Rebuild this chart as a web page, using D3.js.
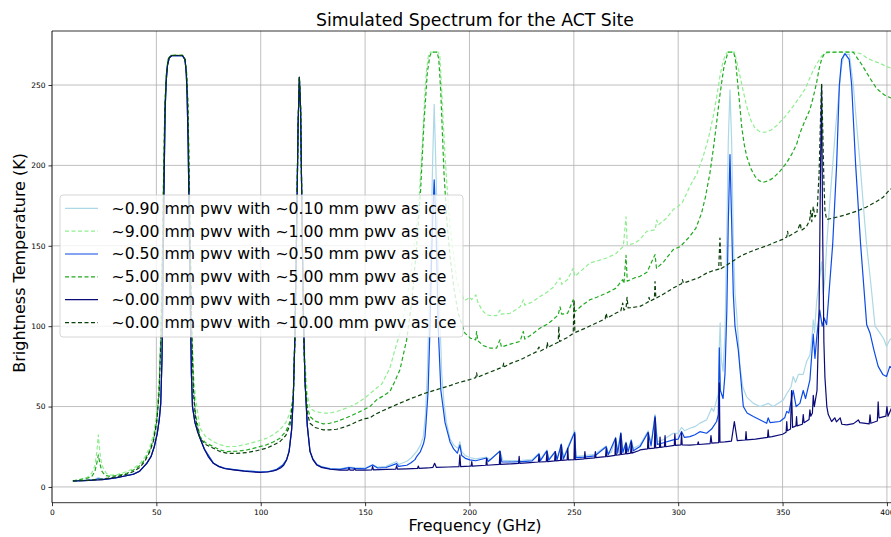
<!DOCTYPE html>
<html>
<head>
<meta charset="utf-8">
<script src="https://d3js.org/d3.v7.min.js"></script>
<style>
  body { margin: 0; background: #fff; }
  svg { display: block; font-family: "DejaVu Sans", sans-serif; }
</style>
</head>
<body>
<svg id="chart" width="891" height="537"></svg>
<script>
// spectrum points: [frequency GHz, brightness temperature K]

const xTicks = [0, 50, 100, 150, 200, 250, 300, 350, 400];
const yTicks = [0, 50, 100, 150, 200, 250];

const labels = [
  "~0.90 mm pwv with ~0.10 mm pwv as ice",
  "~9.00 mm pwv with ~1.00 mm pwv as ice",
  "~0.50 mm pwv with ~0.50 mm pwv as ice",
  "~5.00 mm pwv with ~5.00 mm pwv as ice",
  "~0.00 mm pwv with ~1.00 mm pwv as ice",
  "~0.00 mm pwv with ~10.00 mm pwv as ice"
];

const lightBlueSpec = [[10,3.7],[15,3.9],[20,4.5],[22.2,5.8],[24,4.8],[27,5.1],[31,5.9],[35,6.9],[39,8],[42,9.9],[45.4,14.8],[47.5,19.2],[49,25.2],[50.4,33.2],[51.4,42],[52.1,52],[52.7,80],[53.2,130],[53.7,190],[54.2,235],[54.7,252],[55.3,262],[56.2,267],[57.5,268.3],[62.5,268.3],[63.7,266],[64.3,258],[64.7,245],[65.2,215],[65.7,170],[66.3,110],[66.8,70],[67.3,50],[68.5,40],[70.9,30.5],[73,23.7],[77.3,15],[80,12.9],[83,11.6],[87,10.9],[92,10.1],[99.6,9.5],[104,9.7],[107.6,11],[110.5,13.8],[112.4,17.2],[113.6,22.5],[114.8,36],[115.6,56],[116.4,95],[117.2,160],[117.9,225],[118.5,254],[119.1,235],[119.7,175],[120.4,110],[121.2,66],[122.3,38.5],[123.6,22.5],[125,17.5],[126.8,14.2],[129,12.7],[133.2,11.6],[138,11.2],[142.3,12.3],[145,12],[150,11.8],[153.6,14],[156,12.3],[160,12.8],[165.1,15.8],[166,14],[170,16],[172,18],[174.7,22],[176.5,26],[177.9,31.3],[178.9,45],[179.8,71],[180.7,110],[181.6,154],[182.4,205],[183.1,238],[183.8,205],[184.8,154],[185.7,110],[186.7,71],[187.8,52],[189,40],[190.7,30],[192.5,26],[194.5,24],[195.4,28.2],[196.3,22],[198,19.5],[200.2,18.3],[203,17.5],[208.2,18.5],[210,16.8],[214.6,22.5],[216,16.5],[220,16.4],[225,16.6],[230,17],[233.3,21],[234,17.2],[237.1,23],[238,17.5],[241.1,22],[242,17.8],[244,27],[245,18.2],[250.4,35],[251,19],[255,19.5],[260,20.3],[265.5,25.5],[266.5,21],[268,21.5],[270,31],[271,22],[272.5,34],[273.5,22.5],[275,28],[276,23],[277.5,29.5],[278.5,24],[281.7,26.2],[285.6,35],[287,27],[288.9,45],[290,28],[293,29.5],[297.6,33.4],[300,33.5],[301.6,37],[303,35],[305.6,36.5],[308,37.5],[310.4,39.7],[313.6,41.7],[316,49],[317,47],[318.4,54],[319.2,58],[319.7,88],[320.1,102],[320.6,80],[321.5,72],[322.4,95],[323.2,150],[324,215],[324.8,247],[325.6,215],[326.4,154],[327.2,120],[328,108],[329.6,75],[331,62],[332.8,56],[336,52],[339.2,50],[343.1,52],[345.5,50],[350.3,54],[352,58],[354,62],[355.1,68.7],[356.2,65],[357.6,70],[359.9,70],[361.5,78],[363.1,82],[364.2,95],[364.7,104],[365.3,96],[366.3,115],[367.8,130],[368.7,140],[369.5,120],[370.3,130],[371.1,150],[372.5,175],[374,200],[375.5,225],[377,245],[378.3,262],[379.5,269],[382,269],[383.9,250],[385.5,225],[387.2,200],[388.7,175],[390.3,150],[392.4,125],[394.3,100],[396.6,95.8],[398.5,92],[399.8,87.4],[401.4,91.5],[404,95]];

const lightGreenSpec = [[10,3.8],[13,4.3],[15,5],[17,6],[19,8.5],[20.5,13],[21.5,22],[22.2,32.4],[22.9,22],[23.8,14],[24.6,11.6],[26,8.5],[27.8,7.3],[31,7.6],[35.8,9.5],[39,11.5],[42.2,14.7],[44.5,18.5],[46.9,25],[48.7,33],[50.2,46],[51.3,65],[52.2,100],[52.9,150],[53.5,200],[54.1,240],[54.8,258],[55.6,266],[57,268.5],[62.5,268.5],[63.7,266],[64.5,258],[65.1,240],[65.7,200],[66.3,150],[67,100],[67.8,70],[68.8,55],[70.9,36.5],[73.5,31.5],[77.3,28.2],[80.5,26.3],[83.7,25.1],[88,25.2],[93.3,26.6],[98,28.2],[102.8,30.3],[106,32.5],[109.2,35.5],[112,40],[114,46],[115.6,56],[116.4,95],[117.2,160],[117.9,225],[118.5,255],[119.1,235],[119.7,175],[120.4,115],[121.2,78],[122.3,58],[123.6,49],[126,47],[130,45.9],[133,46],[136.4,46.9],[141,49],[146,52],[150,55.5],[152.3,58],[155.5,61.5],[158,64],[161.9,74],[164,84],[166.7,95.7],[169,110],[171.5,128.9],[173,145],[174.7,162],[176,182],[177.1,205.7],[178,228],[178.7,247],[179.5,260],[180.3,268],[181.2,270.4],[185,270.4],[185.8,268],[186.7,247],[187.5,225],[188.3,205.7],[189.5,182],[190.7,162],[192.3,145],[193.9,129],[195.8,120],[197.8,116],[200.2,118],[201,116.5],[203.1,119.5],[204,115],[206,110],[208.2,107],[211,106.5],[213,106.5],[214.6,110],[215.2,107.5],[219.4,108],[222,110],[224.2,112],[225.8,116.4],[226.5,113],[230,115],[233.8,118.5],[237,121],[240,124],[243.4,130],[244.2,126],[247,129],[249.7,136],[250.5,131],[254,135],[257.7,139.3],[261,140.5],[265.7,142.4],[270,145],[273.7,149.6],[275,168],[275.6,150.5],[279,151.5],[281.7,154],[284.9,159],[289,160],[289.7,166],[290.5,163],[294.5,167.3],[297.6,172.5],[300,174.5],[302,177],[305.6,187],[309,195],[312,205.7],[314.5,217],[316.8,230.6],[318.5,243],[320,255.5],[321.2,263],[322.4,268],[323.5,270.4],[327,270.4],[328.3,263],[329.6,255.5],[331.2,246],[332.8,236.8],[334.8,228],[336.8,223.3],[339,221],[341.6,220.6],[344.5,222],[347.2,224.8],[351,230],[355.1,236.8],[358.5,243],[361,248],[363.1,254.5],[365,260],[366.8,264],[368.7,268],[371,270],[378,270.6],[384,270.5],[387.5,269.5],[390.3,267],[393.4,265],[396.6,263.5],[399.8,261.5],[402,260.5],[404,259.5]];

const blueSpec = [[10,3.7],[15,3.9],[20,4.3],[22.2,5],[24,4.6],[27,5],[31,5.8],[35,6.8],[39,8],[42,9.8],[45.4,14.7],[47.5,19.1],[49,25.1],[50.4,33.1],[51.4,42],[52.1,52],[52.7,80],[53.2,130],[53.7,190],[54.2,235],[54.7,252],[55.3,262],[56.2,267],[57.5,268.3],[62.5,268.3],[63.7,266],[64.3,258],[64.7,245],[65.2,215],[65.7,170],[66.3,110],[66.8,70],[67.3,50],[68.5,40],[70.9,30.4],[73,23.6],[77.3,14.8],[80,12.8],[83,11.5],[87,10.8],[92,10],[99.6,9.3],[104,9.5],[107.6,10.8],[110.5,13.5],[112.4,17],[113.6,22.3],[114.8,35.8],[115.6,56],[116.4,95],[117.2,160],[117.9,225],[118.5,254],[119.1,235],[119.7,175],[120.4,110],[121.2,66],[122.3,38.3],[123.6,22.3],[125,17.3],[126.8,14],[129,12.5],[133.2,11.3],[138,10.9],[142.3,12],[145,11.6],[150,11.3],[153.6,13.6],[156,11.8],[160,12.1],[165.1,14.5],[166,12.8],[170,13.5],[172,15],[173.9,17],[174.7,18.9],[176.5,22],[178,27],[178.7,31.3],[179.2,40],[180.2,60],[181.1,100],[182,150],[182.6,175],[183.1,191],[183.6,175],[184.2,150],[185,100],[186.3,60],[188.3,40],[190.7,28],[192.5,23.5],[194.2,21],[195.4,26],[196.3,19.5],[198,17.8],[200.2,16.8],[203,16.3],[208.2,18],[209,15.8],[214.6,22.3],[215.5,15.6],[220,15.5],[225,15.8],[230,16.2],[233.3,20.5],[234,16.4],[237.1,22.5],[238,16.7],[241.1,22],[242,17],[244,26.5],[245,17.4],[250.4,34],[251,18.2],[255,18.6],[260,19.3],[265.5,25],[266.5,20],[270,30.5],[271,21],[272.5,33.5],[273.5,21.4],[275,27.5],[276,21.8],[277.5,29],[278.5,22.5],[281.7,25.1],[285.6,34],[287,25.5],[288.9,44],[290,26.5],[293,27.5],[297.6,29.3],[300,29.8],[301.6,34.5],[303,30.8],[305.6,31.3],[308,32.5],[310.4,34.4],[313.6,33.4],[316,36],[318.4,40.7],[319.2,45],[319.7,86.5],[320.2,60],[321.5,55],[322.4,70],[323.3,110],[324,165],[324.8,206.7],[325.6,165],[326.4,120],[327.2,100],[328.8,85],[331.2,50],[333,46],[336,43.8],[342.4,39.6],[343.1,43],[344,40],[348.7,40.7],[351,43],[352,47],[353,46],[355.1,60],[356.5,50],[358.3,52],[359.9,60],[361,55],[363.1,66.6],[364.7,95],[365.5,80],[366.5,95],[367.8,110],[369,100],[370,105],[371.1,100.9],[372.5,125],[374,150.7],[375.9,200.5],[377.2,250],[378.3,266],[379.9,269.5],[381.9,266],[383.1,250],[385,200.5],[387.4,150.7],[390.3,100.9],[391.9,95.7],[393.8,85],[395.8,75],[398,70],[399.8,68.7],[401.4,75],[404,72]];

const greenSpec = [[10,3.8],[15,5],[17,5.5],[19,6.4],[20.5,9.5],[21.5,15],[22.2,19.9],[22.9,15],[23.8,10],[24.6,8.5],[26,7],[27.8,6.6],[31,7],[35.8,8.5],[39,10.5],[42.2,13.3],[44.5,17],[46.9,23],[48.7,30],[50.2,41.7],[51.3,60],[52.2,95],[52.9,145],[53.5,195],[54.1,238],[54.8,257],[55.6,266],[57,268.5],[62.5,268.5],[63.7,266],[64.5,257],[65.1,238],[65.7,195],[66.3,145],[67,95],[67.8,62],[68.8,45],[70.9,31.3],[73.5,27.5],[77.3,25.1],[80.5,23],[83.7,22],[88,22.2],[93.3,23],[98,24.5],[102.8,26.2],[106,28],[109.2,30.3],[112,34.5],[114,40.7],[115.6,56],[116.4,95],[117.2,160],[117.9,225],[118.5,255],[119.1,235],[119.7,175],[120.4,105],[121.2,68],[122.3,50],[123.6,43.8],[126,41],[130,39.2],[133,39.6],[136.4,40.7],[141,43],[146,45.9],[150,48.5],[152.3,50],[155.5,54.2],[158.5,56.5],[161.9,59.4],[164,65],[166.7,72.9],[169.9,91.5],[172.3,114.4],[174.7,149.6],[176.6,184.9],[178.2,226.5],[179.8,257.6],[181,268],[181.8,270.4],[184.5,270.4],[185.3,266],[186.2,247],[187.8,195.3],[189.2,165],[190.7,143.4],[192.5,124],[194.6,108],[197.8,95.7],[200.5,92.5],[203,91.5],[203.4,96.7],[204,91],[206.5,88],[209.8,86.4],[213,86.4],[214.6,91.5],[215.3,87],[220,89],[224.2,90.5],[225.8,96.7],[226.5,92],[230,95],[233.8,98.8],[237,101],[240,104],[242.5,107],[243.4,112],[244.2,107.5],[247,108],[249.7,116.4],[250.5,109],[254,113],[257.7,116.4],[261,118],[265.7,120.6],[270,123.5],[273.4,128.9],[274,126.5],[275,144],[275.6,128],[279,130],[281.7,131],[285,133.5],[288.9,144.5],[289.6,136],[293,140],[297.6,147.6],[301,149.5],[305.6,155.9],[308.5,161],[311.2,170.4],[313,180],[315.2,195.2],[316.8,210],[318.4,226.4],[319.6,240],[320.8,251.4],[322,262],[322.9,265.9],[323.8,270.4],[326.6,270.4],[327.5,265],[328.8,247],[329.6,236],[330.4,224.3],[331.5,214],[332.8,205.7],[334.8,198],[336.8,193.2],[338.7,190.5],[340.7,189.5],[343,190.3],[345.5,192.2],[348.5,196],[351.9,201.5],[354.4,207],[356.7,213],[358.3,220],[360.5,227],[363.1,234.7],[364.8,243],[366.3,251.4],[367.5,260],[368.7,266],[370,269.5],[371.1,270.4],[383.9,270.4],[386.2,266],[388.3,262],[390.3,257.6],[392.5,253],[395,248],[397.5,245],[399.8,243],[402,242],[404,241]];

const navySpec = [[10,3.7],[15,3.9],[20,4.2],[23,4.4],[27,5],[31,5.8],[35,6.8],[39,7.9],[42,9.8],[45.4,14.7],[47.5,19],[49,25],[50.4,33],[51.4,42],[52.1,52],[52.7,80],[53.2,130],[53.7,190],[54.2,235],[54.7,252],[55.3,262],[56.2,267],[57.5,268.3],[62.5,268.3],[63.7,266],[64.3,258],[64.7,245],[65.2,215],[65.7,170],[66.3,110],[66.8,70],[67.3,50],[68.5,40],[69.8,34],[70.9,30.3],[73,23.5],[75,18.5],[77.3,14.7],[80,12.6],[83,11.3],[86.9,10.6],[92,9.8],[96,9.3],[99.6,9.1],[103,9.3],[106,9.9],[107.6,10.6],[109.5,11.8],[111,13.5],[112.4,16.8],[113.6,22],[114.8,35.5],[115.6,56],[116.4,95],[117.2,160],[117.9,225],[118.5,255],[119.1,235],[119.7,175],[120.4,110],[121.2,66],[122.3,38],[123.6,22],[125,17],[126.8,13.7],[129,12.2],[133.2,11],[138,10.5],[141.8,10.4],[142.3,11.8],[142.8,10.4],[144.5,10.4],[145,11.5],[145.5,10.4],[150,10.4],[153.2,10.6],[153.6,12.8],[154,10.6],[160,10.9],[164.7,11.1],[165.1,13.2],[165.5,11.1],[170,11.3],[175.1,11.5],[175.5,13],[175.9,11.5],[180,11.8],[182.5,12.2],[183.3,14.7],[184.1,12.2],[190,12.4],[195,12.6],[195.4,20],[195.8,12.6],[200,12.9],[200.8,13],[201.1,15.8],[201.4,13],[207.9,13.5],[208.2,17.8],[208.5,13.5],[214.3,14],[214.6,22],[214.9,14],[220,14.4],[223.5,14.6],[223.8,19],[224.1,14.7],[229,15.1],[233,15.5],[233.3,20],[233.6,15.5],[236.8,15.8],[237.1,22],[237.4,15.8],[240.8,16.2],[241.1,22],[241.4,16.2],[243.6,16.5],[243.9,26],[244.2,16.5],[246.8,16.8],[247.1,24],[247.4,16.8],[250.1,17],[250.4,33],[250.7,17],[255,17.5],[255.3,22],[255.6,17.6],[260,18.1],[260.3,22],[260.6,18.2],[265.2,18.8],[265.5,24],[265.8,18.9],[269.7,19.6],[270,30],[270.3,19.7],[272.2,20.1],[272.5,33],[272.8,20.2],[274.7,20.6],[275,27],[275.3,20.6],[277.2,21],[277.5,28],[277.8,21],[281,22.5],[281.7,23],[285.3,23.7],[285.6,33.6],[285.9,23.8],[288.6,24.2],[288.9,43],[289.2,24.3],[291,24.6],[291.3,31],[291.6,24.6],[293.4,25],[293.7,32],[294,25],[298.1,25.8],[298.4,33],[298.7,25.9],[301.3,26.2],[301.6,33.6],[301.9,26.2],[305.6,26],[309.3,26.4],[309.6,28],[309.9,26.4],[315.3,27],[315.7,32],[316.1,27.2],[319.4,27.6],[319.7,64.7],[320,27.8],[322.4,28],[325.5,28.5],[326.9,40.7],[328.3,28.8],[332.2,29.2],[332.5,34.5],[332.8,29.3],[337,29.8],[342.8,30.8],[343.1,35.5],[343.4,31],[345,31.3],[350,32.8],[351.7,34],[352,40.7],[352.3,35],[353.8,36],[354.3,60],[354.8,37],[356.4,38],[356.7,43.8],[357,38],[359.5,39],[359.9,45],[360.3,40],[362.7,42],[363.1,48],[363.5,44],[364.3,46],[364.7,57],[365.2,50],[366.5,60],[367.5,110],[368.2,200],[368.7,250],[369.2,160],[369.8,90],[370.3,68],[371.2,50],[371.9,45],[373.5,40.7],[375,43],[375.8,40.5],[377.6,43],[378.4,39],[380.7,38.6],[384,39.4],[386.3,41.7],[387,40],[391.5,39.2],[391.9,44.8],[392.3,39.6],[395.4,41],[395.8,53],[396.2,43],[399.5,44],[400,50],[400.5,44],[402.5,50],[404,58]];

const darkGreenSpec = [[10,3.7],[15,4],[20,4.4],[23,4.8],[27,5.5],[31,6.4],[35.8,7.9],[39,9.6],[42.2,12.3],[44.5,16],[46.9,22],[48.7,29],[50.2,40.7],[51.3,58],[52.2,93],[52.9,143],[53.5,193],[54.1,237],[54.8,256],[55.6,266],[57,268.4],[62.5,268.4],[63.7,266],[64.5,256],[65.1,237],[65.7,193],[66.3,143],[67,93],[67.8,58],[68.8,42],[70.9,30.3],[73.5,26.5],[77.3,24.1],[80.5,22],[83.7,21],[88,20.8],[93.3,21.4],[98,22.5],[102.8,24.1],[106,26],[109.2,28.2],[112,32],[114,38.6],[115.6,56],[116.4,95],[117.2,160],[117.9,225],[118.5,255],[119.1,235],[119.7,175],[120.4,105],[121.2,65],[122.3,46],[123.6,39.6],[126,37],[130,35.5],[133,35.5],[136.4,35.9],[140,37.2],[142.8,38.6],[146,40.6],[150,42.5],[152.3,43],[155,45.3],[158.7,47.5],[162,49.5],[165,51.2],[168.3,53],[171,54.5],[174.7,56.3],[178,58],[182,59.6],[184.3,60.5],[187.5,61.8],[191,63.2],[195,65],[200.2,66.8],[203,68],[203.4,71],[203.8,68.2],[208,70.5],[212,72.5],[216,74.6],[216.4,77],[216.8,74.8],[220,77],[224.2,79],[228,81.5],[232,84],[233.3,87],[234,84.6],[237,86.5],[237.3,90],[237.6,86.8],[240,88.5],[242.5,90],[242.8,99.8],[243.2,90.5],[247,93],[249.7,95.5],[250.1,116.4],[250.5,96],[255,98.5],[260,101.5],[265,104.5],[265.5,108],[266,105],[270,108],[272.5,109.5],[273.4,114.4],[274,110],[275,111],[275.5,118],[276,111.3],[281.7,112.3],[285.6,115],[286,118],[286.5,115.5],[288.6,117],[288.9,127.8],[289.3,117.3],[293,120],[297.6,123.7],[301.6,126.4],[302,129],[302.5,126.8],[305.6,128.2],[309.6,130],[313.6,133],[316,134.2],[319.4,135.5],[320,154.8],[320.6,135.8],[325,139.5],[329.6,143.4],[333,145.5],[338,148],[343.1,150.3],[345.5,151.7],[350,154],[352,155.5],[352.4,159],[352.8,155.8],[355,157.5],[357,159],[358.5,164],[359,159.5],[361.5,162],[363,166],[363.5,172],[364,165],[364.7,174.5],[365.5,168],[366.5,170],[367.5,195],[368.2,230],[368.7,251],[369.2,225],[369.8,190],[370.3,172],[371.1,166.3],[375,167.5],[380,169.2],[385.5,171.5],[390,174],[395,177.5],[398,180],[401.4,185],[404,186.5]];

const seriesData = [lightBlueSpec, lightGreenSpec, blueSpec, greenSpec, navySpec, darkGreenSpec];
const seriesColors = ["#add8e6", "#90ee90", "#0b4be6", "#1faa1f", "#0b0b78", "#0a400a"];
const seriesDash = [null, "4,2.5", null, "4,2.5", null, "4,2.5"];

const svg = d3.select("#chart");

// axes box (right edge falls just outside the picture, like the original)
const plotLeft = 52, plotTop = 31, plotRight = 898, plotBottom = 502.7;

const x = d3.scaleLinear().domain([0, 405.3]).range([plotLeft, plotRight]);
const y = d3.scaleLinear().domain([-9.8, 283.6]).range([plotBottom, plotTop]);

svg.append("defs").append("clipPath").attr("id", "plotClip")
  .append("rect")
  .attr("x", plotLeft).attr("y", plotTop)
  .attr("width", plotRight - plotLeft).attr("height", plotBottom - plotTop);

// grid
const grid = svg.append("g");
grid.selectAll(".gx").data(xTicks).enter().append("line")
  .attr("x1", d => x(d)).attr("x2", d => x(d))
  .attr("y1", plotTop).attr("y2", plotBottom)
  .attr("stroke", "#b0b0b0").attr("stroke-width", 0.8);
grid.selectAll(".gy").data(yTicks).enter().append("line")
  .attr("x1", plotLeft).attr("x2", plotRight)
  .attr("y1", d => y(d)).attr("y2", d => y(d))
  .attr("stroke", "#b0b0b0").attr("stroke-width", 0.8);

// curves
const line = d3.line().x(d => x(d[0])).y(d => y(d[1]));
const plot = svg.append("g").attr("clip-path", "url(#plotClip)");
seriesData.forEach(function(s, i) {
  plot.append("path")
    .datum(s)
    .attr("d", line)
    .attr("fill", "none")
    .attr("stroke", seriesColors[i])
    .attr("stroke-width", 1.2)
    .attr("stroke-linejoin", "round")
    .attr("stroke-dasharray", seriesDash[i]);
});

// axes
const xAxis = svg.append("g")
  .attr("transform", `translate(0,${plotBottom})`)
  .call(d3.axisBottom(x).tickValues(xTicks).tickSize(3.5).tickPadding(3));
const yAxis = svg.append("g")
  .attr("transform", `translate(${plotLeft},0)`)
  .call(d3.axisLeft(y).tickValues(yTicks).tickSize(3.5).tickPadding(3));
[xAxis, yAxis].forEach(function(a) {
  a.select(".domain").remove();
  a.selectAll("line").attr("stroke", "#000").attr("stroke-width", 0.8);
  a.selectAll("text").attr("font-family", "DejaVu Sans").attr("font-size", 7.5).attr("fill", "#000");
});

// spines
svg.append("line").attr("x1", plotLeft).attr("x2", plotLeft).attr("y1", plotTop).attr("y2", plotBottom)
  .attr("stroke", "#000").attr("stroke-width", 0.8);
svg.append("line").attr("x1", plotLeft).attr("x2", plotRight).attr("y1", plotTop).attr("y2", plotTop)
  .attr("stroke", "#000").attr("stroke-width", 0.8);
svg.append("line").attr("x1", plotLeft).attr("x2", plotRight).attr("y1", plotBottom).attr("y2", plotBottom)
  .attr("stroke", "#000").attr("stroke-width", 0.8);

// titles
svg.append("text").attr("x", (plotLeft + plotRight) / 2).attr("y", 26)
  .attr("text-anchor", "middle").attr("font-size", 17.3)
  .text("Simulated Spectrum for the ACT Site");
svg.append("text").attr("x", (plotLeft + plotRight) / 2).attr("y", 531)
  .attr("text-anchor", "middle").attr("font-size", 16)
  .text("Frequency (GHz)");
svg.append("text")
  .attr("transform", `translate(25,${(plotTop + plotBottom) / 2 - 4}) rotate(-90)`)
  .attr("text-anchor", "middle").attr("font-size", 16)
  .text("Brightness Temperature (K)");

// legend
const legend = svg.append("g");
legend.append("rect")
  .attr("x", 60).attr("y", 195).attr("width", 403).attr("height", 142)
  .attr("rx", 3)
  .attr("fill", "#fff").attr("fill-opacity", 0.8)
  .attr("stroke", "#cccccc").attr("stroke-width", 0.8);
labels.forEach(function(lab, i) {
  const ly = 208.3 + i * 22.85;
  legend.append("line")
    .attr("x1", 65).attr("x2", 98).attr("y1", ly).attr("y2", ly)
    .attr("stroke", seriesColors[i]).attr("stroke-width", 1.2)
    .attr("stroke-dasharray", seriesDash[i]);
  legend.append("text")
    .attr("x", 111.5).attr("y", ly).attr("dy", "0.35em")
    .attr("font-size", 15.7)
    .text(lab);
});
</script>
</body>
</html>
